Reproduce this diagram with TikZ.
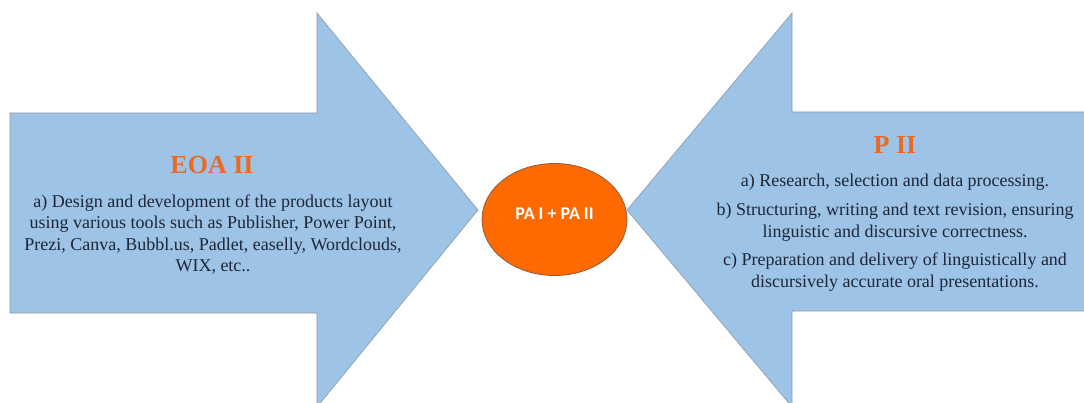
\documentclass[tikz,border=0pt]{standalone}
\usepackage{fontspec}
\setmainfont{Liberation Serif}
\newfontfamily\hubfont{Carlito}
\usetikzlibrary{shapes.geometric}
\definecolor{arrowblue}{HTML}{9DC3E6}
\definecolor{arrowedge}{HTML}{8A9BAA}
\definecolor{hubfill}{HTML}{FF6A00}
\definecolor{hubedge}{HTML}{8C5A3C}
\definecolor{titleorange}{HTML}{EA6A24}
\definecolor{bodyink}{HTML}{1E2638}
\tikzset{
  bigarrow/.style={fill=arrowblue, draw=arrowedge, line width=0.6pt},
  hub/.style={ellipse, fill=hubfill, draw=hubedge, line width=0.8pt,
    minimum width=145pt, minimum height=112pt, inner sep=0pt},
  hubtext/.style={text=white, inner sep=0pt,
    font=\hubfont\bfseries\fontsize{18}{20}\selectfont},
  heading/.style={text=titleorange, inner sep=0pt,
    font=\bfseries\fontsize{26}{28}\selectfont},
  bodytext/.style={text=bodyink, align=center, inner sep=0pt,
    font=\fontsize{18}{21.5}\selectfont}
}
\begin{document}
\begin{tikzpicture}[x=1pt, y=-1pt]
\useasboundingbox (0,0) rectangle (1084,403);
% left arrow pointing right
\draw[bigarrow] (10,113) -- (317,113) -- (317,13) -- (478,210)
  -- (317,407) -- (317,313) -- (10,313) -- cycle;
% right arrow pointing left
\draw[bigarrow] (1090,112) -- (792,112) -- (792,13) -- (627,210)
  -- (792,407) -- (792,311) -- (1090,311) -- cycle;
% central hub
\node[hub] (hubnode) at (554.5,219.5) {};
\node[hubtext] (hublabel) at ([yshift=5.5pt]hubnode.center) {PA I + PA II};
% left arrow texts
\node[heading] (eoa) at (212,165) {EOA II};
\node[bodytext] (eoabody) at (213,234.5)
  {a) Design and development of the products layout\\
   using various tools such as Publisher, Power Point,\\
   Prezi, Canva, Bubbl.us, Padlet, easelly, Wordclouds,\\
   WIX, etc..};
% right arrow texts
\node[heading] (pii) at (895,145) {P II};
\node[bodytext] (piibody) at (895,232.5)
  {a) Research, selection and data processing.\\[7.5pt]
   b) Structuring, writing and text revision, ensuring\\
   linguistic and discursive correctness.\\[7pt]
   c) Preparation and delivery of linguistically and\\
   discursively accurate oral presentations.};
\end{tikzpicture}
\end{document}
